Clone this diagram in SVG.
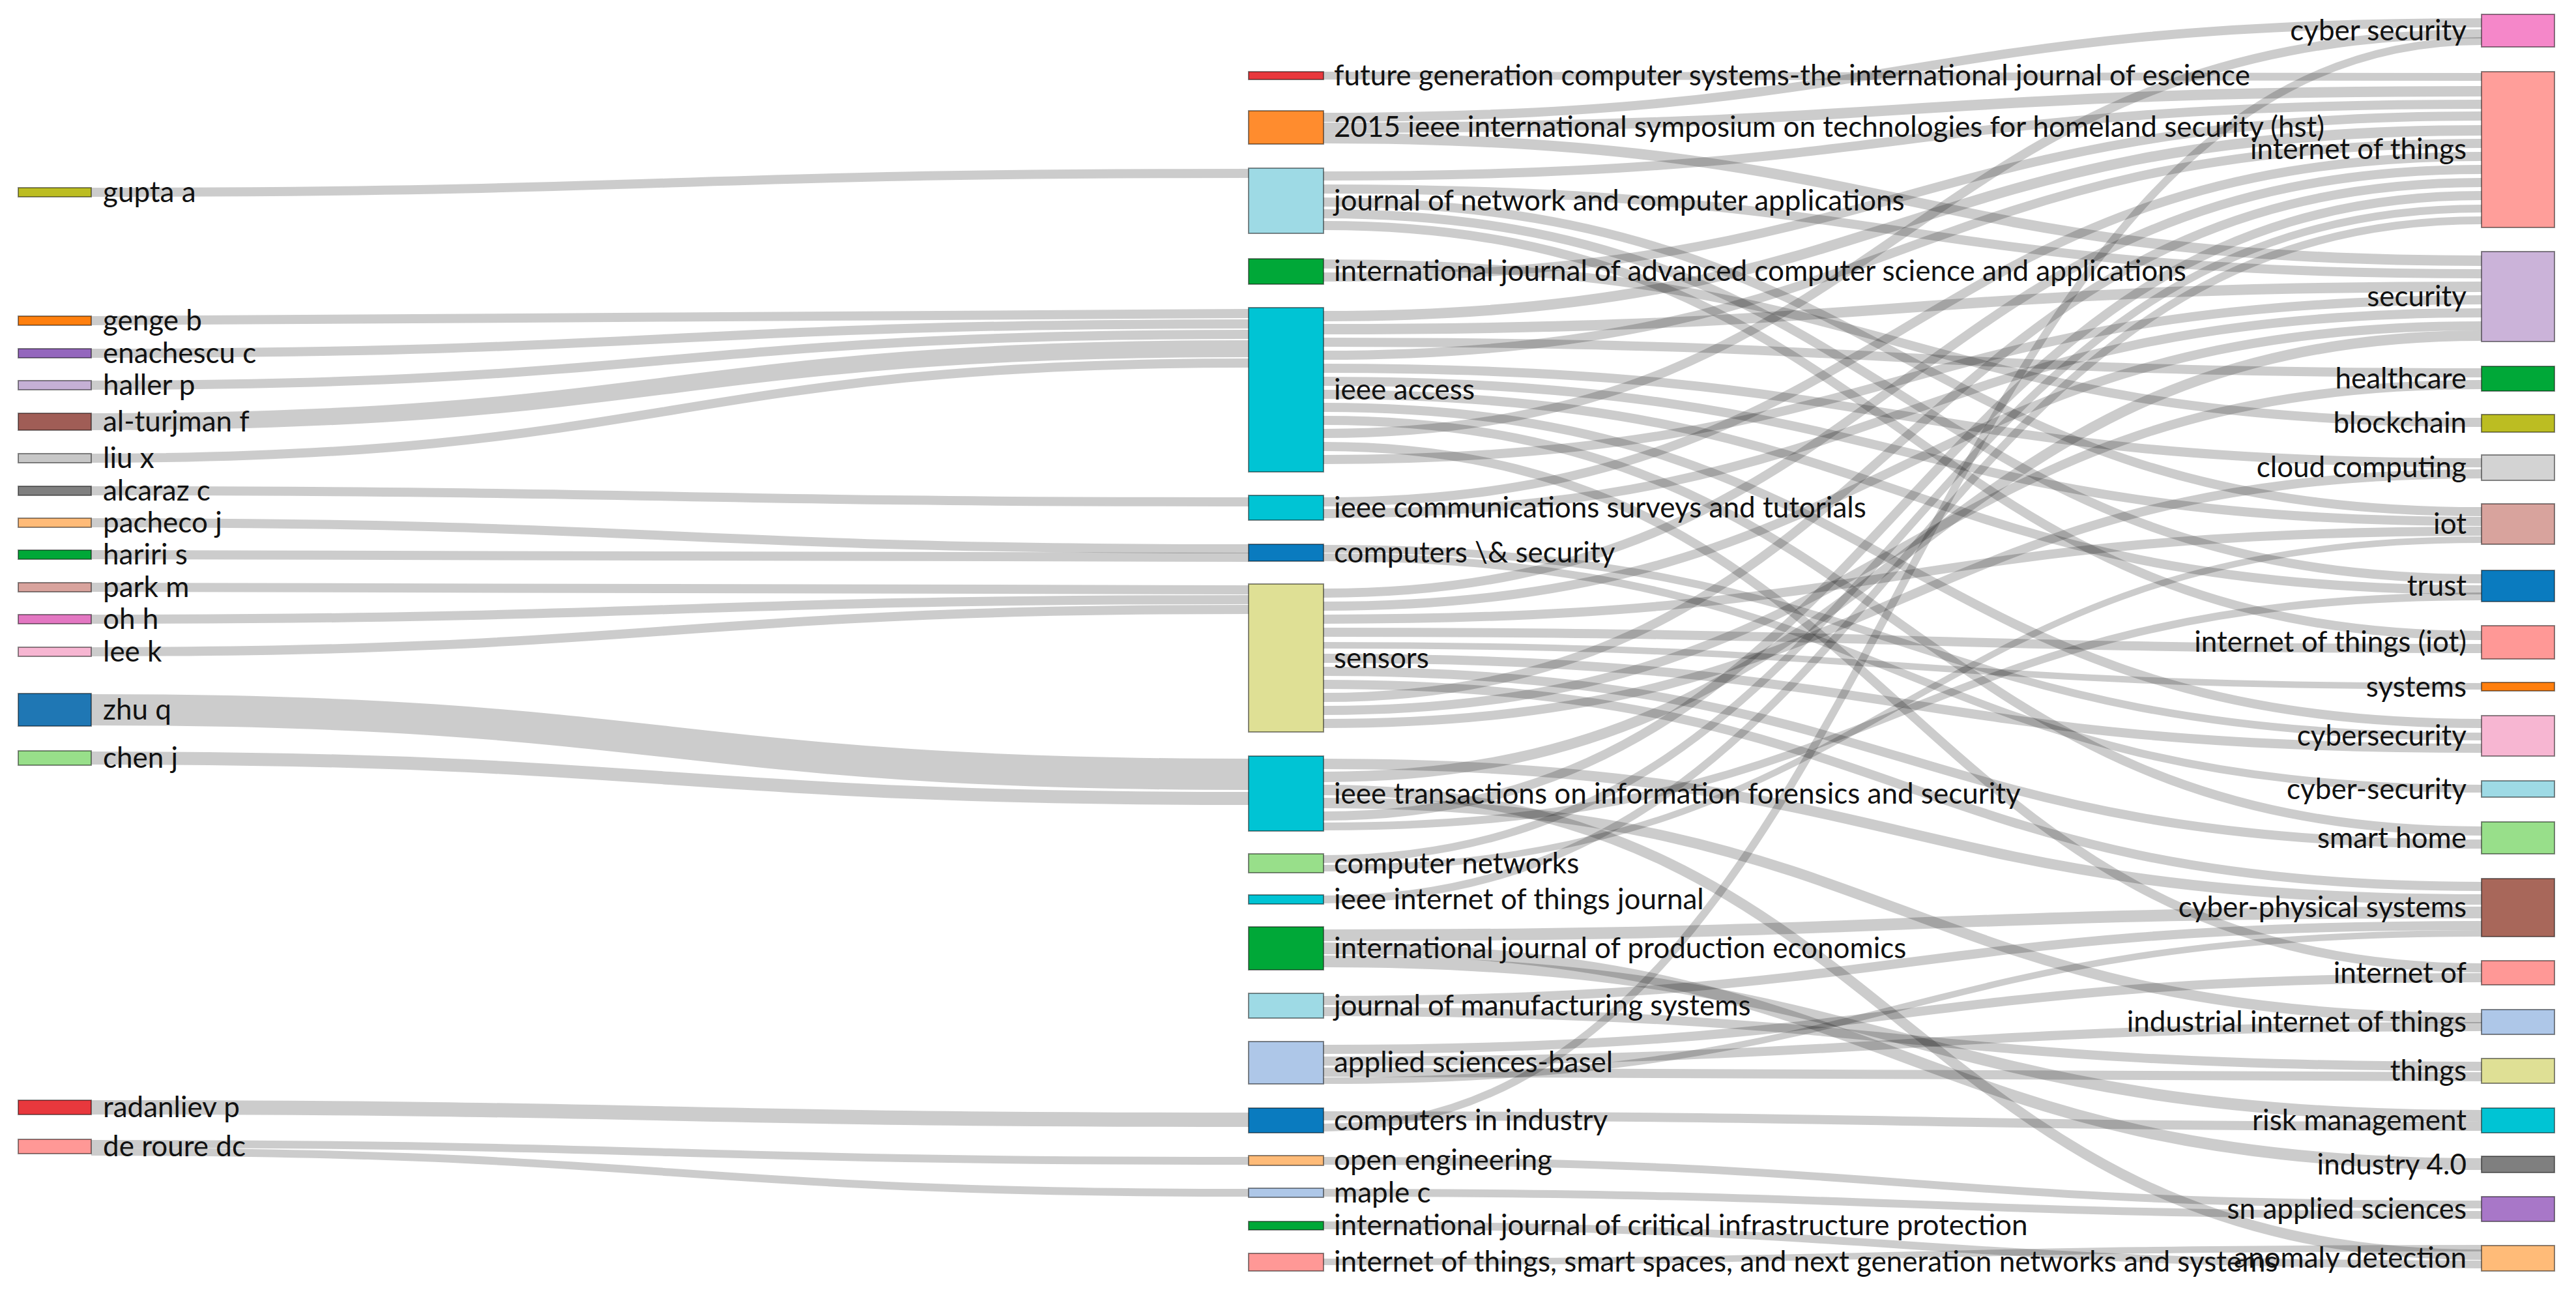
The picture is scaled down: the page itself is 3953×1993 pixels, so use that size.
<svg xmlns="http://www.w3.org/2000/svg" width="3953" height="1993" viewBox="0 0 3953 1993">
<style>
.l{fill:none;stroke:#000;stroke-opacity:0.2}
.n rect{stroke:#000;stroke-opacity:0.45;stroke-width:2}
text{font-family:Lato,"Liberation Sans",sans-serif;font-size:44px;fill:#111}
.r text{text-anchor:end}
</style>
<rect width="3953" height="1993" fill="#fff"/>
<g id="links">
<path class="l" stroke-width="14" d="M140 295C1028 295 1028 266 1916 266"/>
<path class="l" stroke-width="14" d="M140 492C1028 492 1028 481 1916 481"/>
<path class="l" stroke-width="14" d="M140 542C1028 542 1028 497 1916 497"/>
<path class="l" stroke-width="14" d="M140 591C1028 591 1028 513 1916 513"/>
<path class="l" stroke-width="26" d="M140 647C1028 647 1028 535 1916 535"/>
<path class="l" stroke-width="14" d="M140 703C1028 703 1028 557 1916 557"/>
<path class="l" stroke-width="14" d="M140 753C1028 753 1028 770 1916 770"/>
<path class="l" stroke-width="14" d="M140 802C1028 802 1028 842 1916 842"/>
<path class="l" stroke-width="14" d="M140 851C1028 851 1028 855 1916 855"/>
<path class="l" stroke-width="14" d="M140 901C1028 901 1028 905 1916 905"/>
<path class="l" stroke-width="14" d="M140 950C1028 950 1028 920 1916 920"/>
<path class="l" stroke-width="14" d="M140 1000C1028 1000 1028 935 1916 935"/>
<path class="l" stroke-width="48" d="M140 1089C1028 1089 1028 1188 1916 1188"/>
<path class="l" stroke-width="20" d="M140 1163C1028 1163 1028 1225 1916 1225"/>
<path class="l" stroke-width="22" d="M140 1699C1028 1699 1028 1718 1916 1718"/>
<path class="l" stroke-width="12" d="M140 1755C1028 1755 1028 1781 1916 1781"/>
<path class="l" stroke-width="12" d="M140 1767C1028 1767 1028 1830 1916 1830"/>
<path class="l" stroke-width="12" d="M2031 116C2920 116 2920 118 3808 118"/>
<path class="l" stroke-width="14" d="M2031 180C2920 180 2920 35 3808 35"/>
<path class="l" stroke-width="16" d="M2031 196C2920 196 2920 140 3808 140"/>
<path class="l" stroke-width="16" d="M2031 212C2920 212 2920 400 3808 400"/>
<path class="l" stroke-width="14" d="M2031 270C2920 270 2920 160 3808 160"/>
<path class="l" stroke-width="14" d="M2031 290C2920 290 2920 420 3808 420"/>
<path class="l" stroke-width="14" d="M2031 310C2920 310 2920 785 3808 785"/>
<path class="l" stroke-width="14" d="M2031 328C2920 328 2920 888 3808 888"/>
<path class="l" stroke-width="14" d="M2031 346C2920 346 2920 975 3808 975"/>
<path class="l" stroke-width="14" d="M2031 405C2920 405 2920 648 3808 648"/>
<path class="l" stroke-width="14" d="M2031 425C2920 425 2920 178 3808 178"/>
<path class="l" stroke-width="16" d="M2031 485C2920 485 2920 200 3808 200"/>
<path class="l" stroke-width="16" d="M2031 505C2920 505 2920 440 3808 440"/>
<path class="l" stroke-width="14" d="M2031 525C2920 525 2920 572 3808 572"/>
<path class="l" stroke-width="14" d="M2031 545C2920 545 2920 220 3808 220"/>
<path class="l" stroke-width="14" d="M2031 565C2920 565 2920 710 3808 710"/>
<path class="l" stroke-width="14" d="M2031 585C2920 585 2920 800 3808 800"/>
<path class="l" stroke-width="14" d="M2031 605C2920 605 2920 905 3808 905"/>
<path class="l" stroke-width="14" d="M2031 625C2920 625 2920 1110 3808 1110"/>
<path class="l" stroke-width="14" d="M2031 645C2920 645 2920 1275 3808 1275"/>
<path class="l" stroke-width="14" d="M2031 665C2920 665 2920 52 3808 52"/>
<path class="l" stroke-width="14" d="M2031 685C2920 685 2920 1485 3808 1485"/>
<path class="l" stroke-width="14" d="M2031 705C2920 705 2920 460 3808 460"/>
<path class="l" stroke-width="14" d="M2031 770C2920 770 2920 240 3808 240"/>
<path class="l" stroke-width="14" d="M2031 788C2920 788 2920 480 3808 480"/>
<path class="l" stroke-width="12" d="M2031 842C2920 842 2920 1130 3808 1130"/>
<path class="l" stroke-width="12" d="M2031 855C2920 855 2920 1210 3808 1210"/>
<path class="l" stroke-width="14" d="M2031 910C2920 910 2920 260 3808 260"/>
<path class="l" stroke-width="14" d="M2031 930C2920 930 2920 500 3808 500"/>
<path class="l" stroke-width="14" d="M2031 950C2920 950 2920 815 3808 815"/>
<path class="l" stroke-width="14" d="M2031 970C2920 970 2920 995 3808 995"/>
<path class="l" stroke-width="10" d="M2031 990C2920 990 2920 1053 3808 1053"/>
<path class="l" stroke-width="14" d="M2031 1010C2920 1010 2920 1148 3808 1148"/>
<path class="l" stroke-width="14" d="M2031 1030C2920 1030 2920 1295 3808 1295"/>
<path class="l" stroke-width="14" d="M2031 1050C2920 1050 2920 1360 3808 1360"/>
<path class="l" stroke-width="14" d="M2031 1070C2920 1070 2920 280 3808 280"/>
<path class="l" stroke-width="14" d="M2031 1090C2920 1090 2920 590 3808 590"/>
<path class="l" stroke-width="14" d="M2031 1110C2920 1110 2920 727 3808 727"/>
<path class="l" stroke-width="16" d="M2031 1172C2920 1172 2920 1380 3808 1380"/>
<path class="l" stroke-width="16" d="M2031 1192C2920 1192 2920 515 3808 515"/>
<path class="l" stroke-width="16" d="M2031 1212C2920 1212 2920 1925 3808 1925"/>
<path class="l" stroke-width="16" d="M2031 1232C2920 1232 2920 1562 3808 1562"/>
<path class="l" stroke-width="14" d="M2031 1252C2920 1252 2920 300 3808 300"/>
<path class="l" stroke-width="12" d="M2031 1268C2920 1268 2920 915 3808 915"/>
<path class="l" stroke-width="12" d="M2031 1318C2920 1318 2920 320 3808 320"/>
<path class="l" stroke-width="10" d="M2031 1332C2920 1332 2920 828 3808 828"/>
<path class="l" stroke-width="12" d="M2031 1380C2920 1380 2920 338 3808 338"/>
<path class="l" stroke-width="18" d="M2031 1435C2920 1435 2920 1400 3808 1400"/>
<path class="l" stroke-width="18" d="M2031 1455C2920 1455 2920 1786 3808 1786"/>
<path class="l" stroke-width="18" d="M2031 1475C2920 1475 2920 1712 3808 1712"/>
<path class="l" stroke-width="14" d="M2031 1535C2920 1535 2920 1420 3808 1420"/>
<path class="l" stroke-width="14" d="M2031 1552C2920 1552 2920 1636 3808 1636"/>
<path class="l" stroke-width="14" d="M2031 1610C2920 1610 2920 1500 3808 1500"/>
<path class="l" stroke-width="14" d="M2031 1628C2920 1628 2920 1575 3808 1575"/>
<path class="l" stroke-width="14" d="M2031 1645C2920 1645 2920 1652 3808 1652"/>
<path class="l" stroke-width="10" d="M2031 1658C2920 1658 2920 1432 3808 1432"/>
<path class="l" stroke-width="14" d="M2031 1712C2920 1712 2920 1728 3808 1728"/>
<path class="l" stroke-width="12" d="M2031 1730C2920 1730 2920 63 3808 63"/>
<path class="l" stroke-width="12" d="M2031 1781C2920 1781 2920 1848 3808 1848"/>
<path class="l" stroke-width="12" d="M2031 1830C2920 1830 2920 1864 3808 1864"/>
<path class="l" stroke-width="12" d="M2031 1880C2920 1880 2920 1940 3808 1940"/>
<path class="l" stroke-width="10" d="M2031 1936C2920 1936 2920 1915 3808 1915"/>
</g>
<g class="n">
<g id="gupta"><rect x="28" y="288" width="112" height="14" fill="#bcbd22"/><text x="158" y="310">gupta a</text></g>
<g id="genge"><rect x="28" y="485" width="112" height="14" fill="#ff7f0e"/><text x="158" y="507">genge b</text></g>
<g id="enachescu"><rect x="28" y="535" width="112" height="14" fill="#9467bd"/><text x="158" y="557">enachescu c</text></g>
<g id="haller"><rect x="28" y="584" width="112" height="14" fill="#c5b0d5"/><text x="158" y="606">haller p</text></g>
<g id="alturjman"><rect x="28" y="634" width="112" height="26" fill="#a05d56"/><text x="158" y="662">al-turjman f</text></g>
<g id="liu"><rect x="28" y="696" width="112" height="14" fill="#c7c7c7"/><text x="158" y="718">liu x</text></g>
<g id="alcaraz"><rect x="28" y="746" width="112" height="14" fill="#7f7f7f"/><text x="158" y="768">alcaraz c</text></g>
<g id="pacheco"><rect x="28" y="795" width="112" height="14" fill="#ffbb78"/><text x="158" y="817">pacheco j</text></g>
<g id="hariri"><rect x="28" y="844" width="112" height="14" fill="#00a838"/><text x="158" y="866">hariri s</text></g>
<g id="park"><rect x="28" y="894" width="112" height="14" fill="#d8a39d"/><text x="158" y="916">park m</text></g>
<g id="oh"><rect x="28" y="943" width="112" height="14" fill="#e377c2"/><text x="158" y="965">oh h</text></g>
<g id="lee"><rect x="28" y="993" width="112" height="14" fill="#f7b6d2"/><text x="158" y="1015">lee k</text></g>
<g id="zhu"><rect x="28" y="1064" width="112" height="50" fill="#1f77b4"/><text x="158" y="1104">zhu q</text></g>
<g id="chen"><rect x="28" y="1152" width="112" height="22" fill="#98df8a"/><text x="158" y="1178">chen j</text></g>
<g id="radanliev"><rect x="28" y="1688" width="112" height="22" fill="#e8383d"/><text x="158" y="1714">radanliev p</text></g>
<g id="deroure"><rect x="28" y="1748" width="112" height="22" fill="#ff9896"/><text x="158" y="1774">de roure dc</text></g>

<g id="fgcs"><rect x="1916" y="110" width="115" height="12" fill="#e8383d"/><text x="2047" y="131">future generation computer systems-the international journal of escience</text></g>
<g id="hst"><rect x="1916" y="170" width="115" height="51" fill="#ff8c2e"/><text x="2047" y="210">2015 ieee international symposium on technologies for homeland security (hst)</text></g>
<g id="jnca"><rect x="1916" y="258" width="115" height="100" fill="#9edae5"/><text x="2047" y="323">journal of network and computer applications</text></g>
<g id="ijacsa"><rect x="1916" y="397" width="115" height="39" fill="#00a838"/><text x="2047" y="431">international journal of advanced computer science and applications</text></g>
<g id="access"><rect x="1916" y="472" width="115" height="252" fill="#00c4d4"/><text x="2047" y="613">ieee access</text></g>
<g id="comst"><rect x="1916" y="760" width="115" height="38" fill="#00c4d4"/><text x="2047" y="794">ieee communications surveys and tutorials</text></g>
<g id="cs"><rect x="1916" y="835" width="115" height="26" fill="#0a7bbf"/><text x="2047" y="863">computers \&amp; security</text></g>
<g id="sensors"><rect x="1916" y="896" width="115" height="227" fill="#dfe095"/><text x="2047" y="1025">sensors</text></g>
<g id="tifs"><rect x="1916" y="1160" width="115" height="115" fill="#00c4d4"/><text x="2047" y="1233">ieee transactions on information forensics and security</text></g>
<g id="comnet"><rect x="1916" y="1310" width="115" height="29" fill="#98df8a"/><text x="2047" y="1340">computer networks</text></g>
<g id="iotj"><rect x="1916" y="1373" width="115" height="14" fill="#00c4d4"/><text x="2047" y="1395">ieee internet of things journal</text></g>
<g id="ijpe"><rect x="1916" y="1422" width="115" height="66" fill="#00a838"/><text x="2047" y="1470">international journal of production economics</text></g>
<g id="jms"><rect x="1916" y="1524" width="115" height="38" fill="#9edae5"/><text x="2047" y="1558">journal of manufacturing systems</text></g>
<g id="applsci"><rect x="1916" y="1598" width="115" height="65" fill="#aec7e8"/><text x="2047" y="1645">applied sciences-basel</text></g>
<g id="cii"><rect x="1916" y="1700" width="115" height="38" fill="#0a7bbf"/><text x="2047" y="1734">computers in industry</text></g>
<g id="openeng"><rect x="1916" y="1773" width="115" height="15" fill="#ffbb78"/><text x="2047" y="1795">open engineering</text></g>
<g id="maple"><rect x="1916" y="1823" width="115" height="14" fill="#aec7e8"/><text x="2047" y="1845">maple c</text></g>
<g id="ijcip"><rect x="1916" y="1874" width="115" height="13" fill="#00a838"/><text x="2047" y="1895">international journal of critical infrastructure protection</text></g>
<g id="iotss"><rect x="1916" y="1923" width="115" height="27" fill="#ff9896"/><text x="2047" y="1951">internet of things, smart spaces, and next generation networks and systems</text></g>
</g>
<g class="n r">
<g id="cybersec"><rect x="3808" y="22" width="112" height="50" fill="#f587c9"/><text x="3785" y="62">cyber security</text></g>
<g id="iot1"><rect x="3808" y="110" width="112" height="239" fill="#ff9e9a"/><text x="3785" y="244">internet of things</text></g>
<g id="security"><rect x="3808" y="386" width="112" height="138" fill="#cbb3d9"/><text x="3785" y="470">security</text></g>
<g id="healthcare"><rect x="3808" y="562" width="112" height="38" fill="#00a838"/><text x="3785" y="596">healthcare</text></g>
<g id="blockchain"><rect x="3808" y="636" width="112" height="27" fill="#bcbd22"/><text x="3785" y="664">blockchain</text></g>
<g id="cloud"><rect x="3808" y="698" width="112" height="39" fill="#d3d3d3"/><text x="3785" y="732">cloud computing</text></g>
<g id="iot"><rect x="3808" y="773" width="112" height="62" fill="#d8a39d"/><text x="3785" y="819">iot</text></g>
<g id="trust"><rect x="3808" y="875" width="112" height="48" fill="#0a7bbf"/><text x="3785" y="914">trust</text></g>
<g id="iotiot"><rect x="3808" y="960" width="112" height="51" fill="#ff9896"/><text x="3785" y="1000">internet of things (iot)</text></g>
<g id="systems"><rect x="3808" y="1047" width="112" height="13" fill="#ff7f0e"/><text x="3785" y="1069">systems</text></g>
<g id="cybersecurity"><rect x="3808" y="1098" width="112" height="62" fill="#f7b6d2"/><text x="3785" y="1144">cybersecurity</text></g>
<g id="cyber-security"><rect x="3808" y="1198" width="112" height="25" fill="#9edae5"/><text x="3785" y="1226">cyber-security</text></g>
<g id="smarthome"><rect x="3808" y="1261" width="112" height="49" fill="#98df8a"/><text x="3785" y="1301">smart home</text></g>
<g id="cps"><rect x="3808" y="1348" width="112" height="89" fill="#a8675a"/><text x="3785" y="1407">cyber-physical systems</text></g>
<g id="internetof"><rect x="3808" y="1474" width="112" height="37" fill="#ff9896"/><text x="3785" y="1508">internet of</text></g>
<g id="iiot"><rect x="3808" y="1549" width="112" height="38" fill="#aec7e8"/><text x="3785" y="1583">industrial internet of things</text></g>
<g id="things"><rect x="3808" y="1624" width="112" height="38" fill="#dfe095"/><text x="3785" y="1658">things</text></g>
<g id="risk"><rect x="3808" y="1700" width="112" height="38" fill="#00c4d4"/><text x="3785" y="1734">risk management</text></g>
<g id="industry"><rect x="3808" y="1774" width="112" height="25" fill="#7f7f7f"/><text x="3785" y="1802">industry 4.0</text></g>
<g id="snapplied"><rect x="3808" y="1836" width="112" height="38" fill="#a877c8"/><text x="3785" y="1870">sn applied sciences</text></g>
<g id="anomaly"><rect x="3808" y="1911" width="112" height="39" fill="#ffbb78"/><text x="3785" y="1945">anomaly detection</text></g>
</g>
</svg>
